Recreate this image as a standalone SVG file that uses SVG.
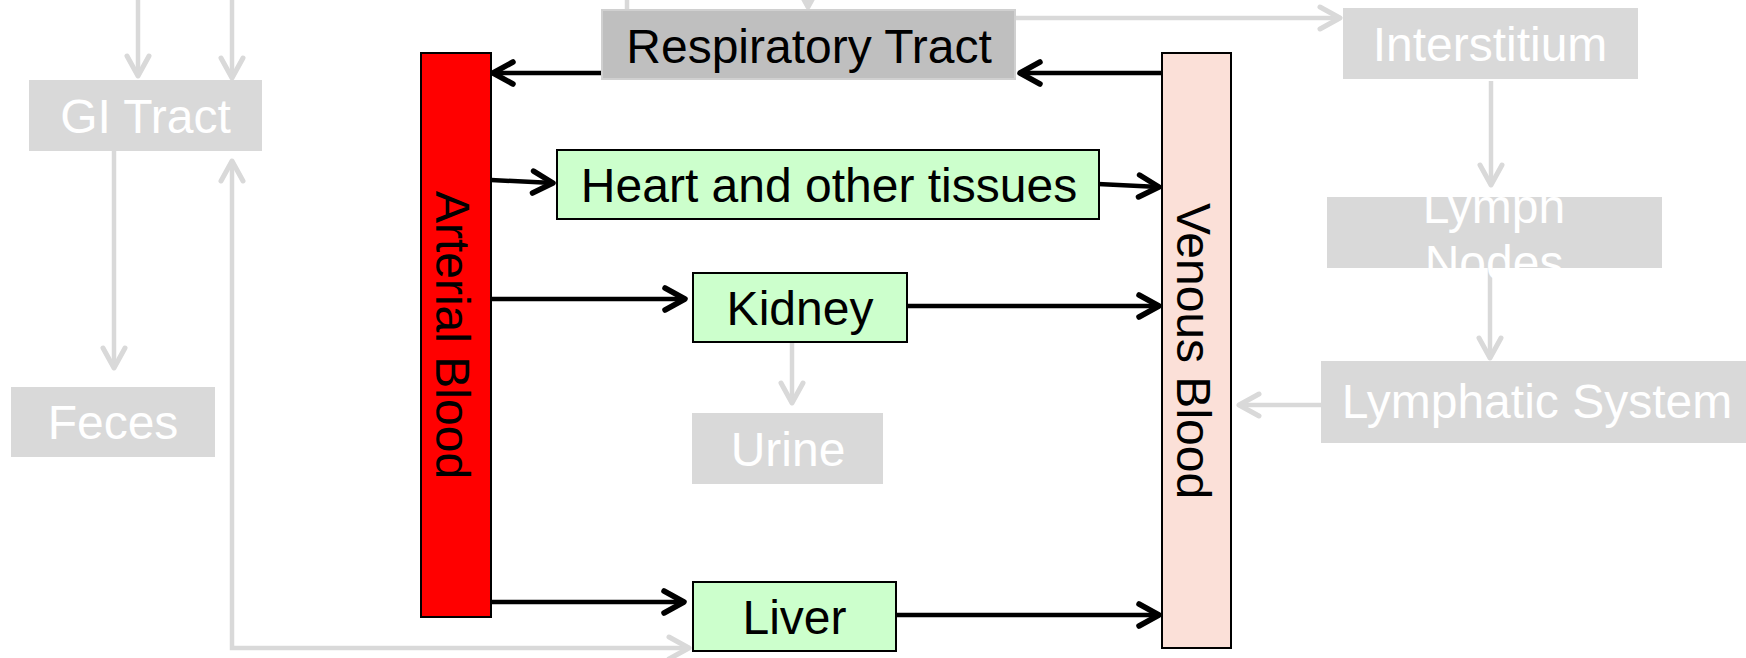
<svg xmlns="http://www.w3.org/2000/svg" width="1746" height="658" viewBox="0 0 1746 658">
<style>
text{font-family:"Liberation Sans",Arial,sans-serif;font-size:48px;text-anchor:middle}
.dim rect{fill:#d9d9d9}
.dim text{fill:#ffffff}
.organ rect{fill:#ccffcc;stroke:#000;stroke-width:2}
.organ text{fill:#000}
.k{fill:none;stroke:#000;stroke-width:4.5;marker-end:url(#ak)}
.g{fill:none;stroke:#d9d9d9;stroke-width:4.5;marker-end:url(#ag)}
</style>
<defs>
<marker id="ak" markerUnits="userSpaceOnUse" viewBox="-26 -16 30 32" refX="0" refY="0" markerWidth="30" markerHeight="32" orient="auto-start-reverse" overflow="visible">
<path d="M-20,-11 L0,0 L-20,11" fill="none" stroke="#000" stroke-width="5.5" stroke-linecap="round" stroke-linejoin="round"/>
</marker>
<marker id="ag" markerUnits="userSpaceOnUse" viewBox="-26 -16 30 32" refX="0" refY="0" markerWidth="30" markerHeight="32" orient="auto-start-reverse" overflow="visible">
<path d="M-20,-11 L0,0 L-20,11" fill="none" stroke="#d9d9d9" stroke-width="5" stroke-linecap="round" stroke-linejoin="round"/>
</marker>
</defs>
<rect width="1746" height="658" fill="#ffffff"/>
<g id="connectors">
<path class="g" d="M138,0 L138,76"/>
<path class="g" d="M232,0 L232,78"/>
<path class="g" d="M114,151 L114,368"/>
<path class="g" d="M232,161 L232,648 L689,648" style="marker-start:url(#ag)"/>
<path d="M627,0 L627,10" fill="none" stroke="#d9d9d9" stroke-width="4.5"/>
<path class="g" d="M808,-40 L808,7"/>
<path class="g" d="M1015,18 L1340,18"/>
<path class="g" d="M1491,81 L1491,185"/>
<path class="g" d="M1490,268 L1490,358"/>
<path class="g" d="M1321,405 L1239,405"/>
<path class="g" d="M792,342 L792,403"/>
<path class="k" d="M602,73 L493,73"/>
<path class="k" d="M1162,73 L1020,73"/>
<path class="k" d="M491,180 L553,183"/>
<path class="k" d="M1098,184 L1159,187"/>
<path class="k" d="M491,299 L685,299"/>
<path class="k" d="M907,306 L1159,306"/>
<path class="k" d="M491,602 L684,602"/>
<path class="k" d="M896,615 L1159,615"/>
</g>
<g id="gi-tract" class="dim"><rect x="29" y="80" width="233" height="71"/><text x="145.5" y="133">GI Tract</text></g>
<g id="feces" class="dim"><rect x="11" y="387" width="204" height="70"/><text x="113" y="439">Feces</text></g>
<g id="urine" class="dim"><rect x="692" y="413" width="191" height="71"/><text x="788" y="466">Urine</text></g>
<g id="interstitium" class="dim"><rect x="1343" y="8" width="295" height="71"/><text x="1490" y="61">Interstitium</text></g>
<g id="lymph-nodes" class="dim"><rect x="1327" y="197" width="335" height="71"/><text x="1494" y="222.5">Lymph</text><text x="1494" y="279">Nodes</text></g>
<g id="lymphatic-system" class="dim"><rect x="1321" y="361" width="432" height="82"/><text x="1537" y="418">Lymphatic System</text></g>
<g id="respiratory-tract"><rect x="602" y="10" width="413" height="69" fill="#bfbfbf" stroke="#d0d0d0" stroke-width="2"/><text x="809" y="63" fill="#000">Respiratory Tract</text></g>
<g id="heart" class="organ"><rect x="557" y="150" width="542" height="69"/><text x="829" y="202">Heart and other tissues</text></g>
<g id="kidney" class="organ"><rect x="693" y="273" width="214" height="69"/><text x="800" y="325">Kidney</text></g>
<g id="liver" class="organ"><rect x="693" y="582" width="203" height="69"/><text x="794.5" y="634">Liver</text></g>
<g id="arterial-blood"><rect x="421" y="53" width="70" height="564" fill="#ff0000" stroke="#000" stroke-width="2"/><text transform="translate(436,335) rotate(90)" x="0" y="0" fill="#000">Arterial Blood</text></g>
<g id="venous-blood"><rect x="1162" y="53" width="69" height="595" fill="#fbe0d8" stroke="#000" stroke-width="2"/><text transform="translate(1177,351) rotate(90)" x="0" y="0" fill="#000">Venous Blood</text></g>
</svg>
